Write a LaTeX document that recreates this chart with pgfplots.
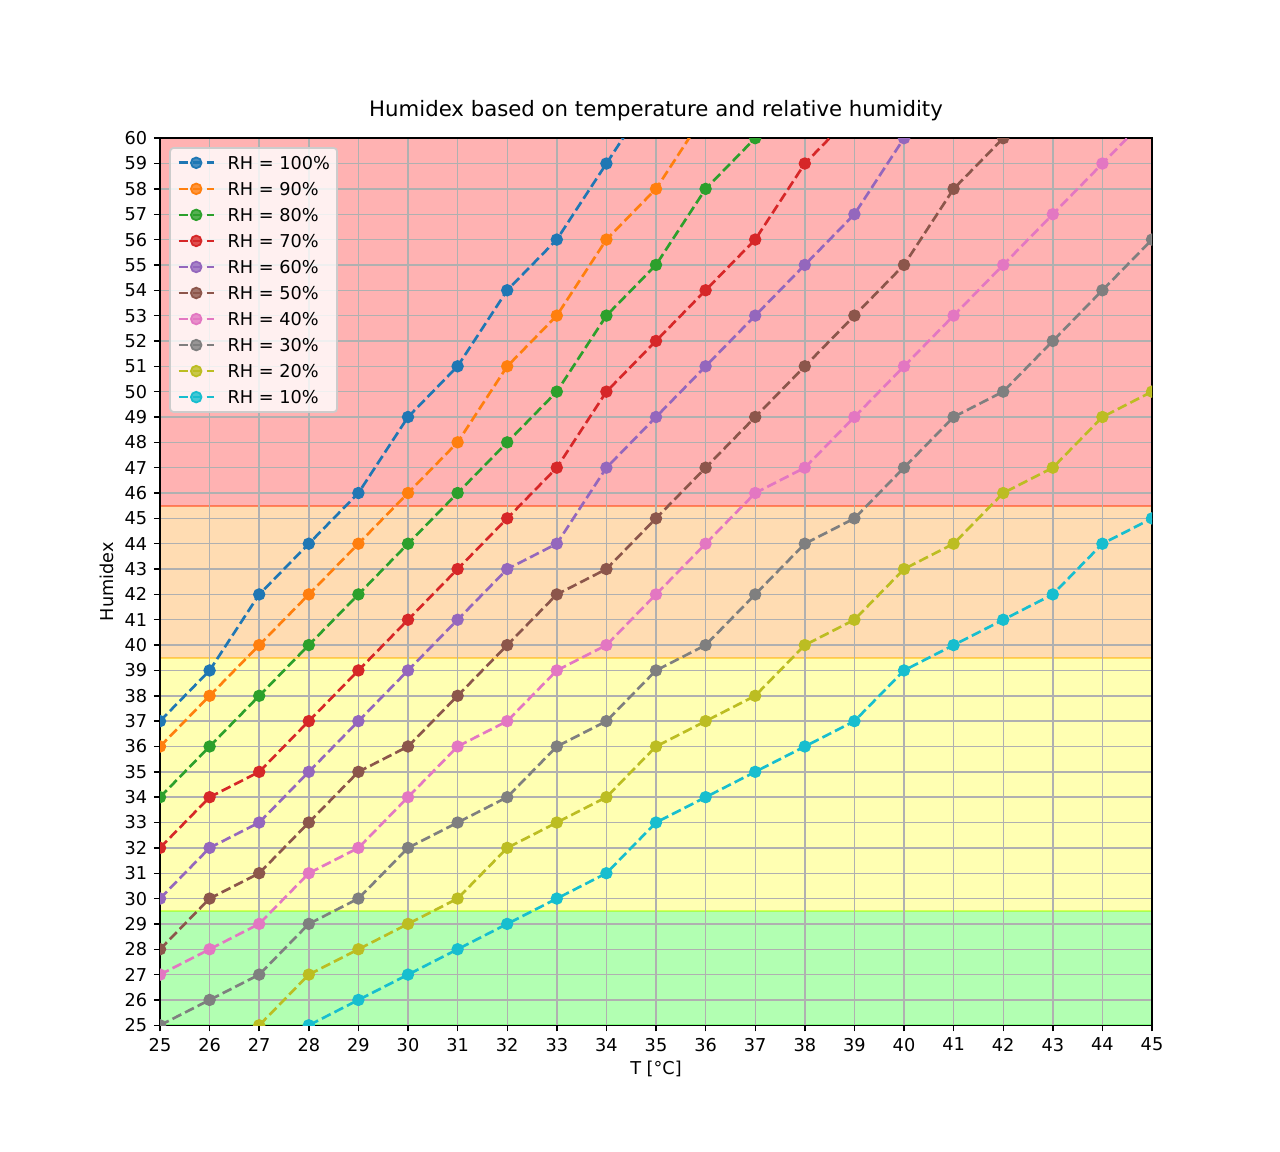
\documentclass[border=0pt]{standalone}
\usepackage{fontspec}
\setmainfont{DejaVu Sans}
\usepackage{pgfplots}
\pgfplotsset{compat=1.18}
\definecolor{c0}{HTML}{1F77B4}
\definecolor{c1}{HTML}{FF7F0E}
\definecolor{c2}{HTML}{2CA02C}
\definecolor{c3}{HTML}{D62728}
\definecolor{c4}{HTML}{9467BD}
\definecolor{c5}{HTML}{8C564B}
\definecolor{c6}{HTML}{E377C2}
\definecolor{c7}{HTML}{7F7F7F}
\definecolor{c8}{HTML}{BCBD22}
\definecolor{c9}{HTML}{17BECF}
\definecolor{bred}{HTML}{FF0000}
\definecolor{borange}{HTML}{FF8C00}
\definecolor{byellow}{HTML}{FFFF00}
\definecolor{bgreen}{HTML}{00FF00}
\definecolor{gridc}{HTML}{B0B0B0}
\definecolor{legc}{HTML}{CCCCCC}
\pgfplotsset{
  hx/.style={color=#1, line width=1.5pt, dash pattern=on 5.55pt off 2.4pt,
    mark=*, mark size=3pt, mark options={solid, line width=1pt, fill=#1, draw=#1}},
  band/.style={on layer=axis background, forget plot, fill=#1, fill opacity=0.3,
    draw=#1, draw opacity=0.3, line width=1pt, mark=none, solid},
}
\begin{document}
\begin{tikzpicture}
\path (0,0) rectangle (722.70pt,650.43pt);
\begin{axis}[
  set layers=standard,
  clip marker paths=true,
  at={(90.34pt,71.54pt)}, anchor=south west,
  scale only axis, width=560.09pt, height=500.86pt,
  xmin=25, xmax=45, ymin=25, ymax=60,
  xtick={25,...,45}, ytick={25,...,60},
  xtick pos=bottom, ytick pos=left,
  tick align=outside, major tick length=3.5pt,
  tick style={black, line width=0.8pt},
  axis line style={line width=0.8pt},
  grid=major, grid style={gridc, line width=0.8pt, solid},
  /pgf/number format/assume math mode=true,
  ticklabel style={font=\fontsize{10}{12}\selectfont, inner sep=0pt},
  xticklabel style={anchor=north, yshift=-3.5pt},
  yticklabel style={anchor=east, xshift=-3.5pt},
  title={Humidex based on temperature and relative humidity},
  title style={at={(axis description cs:0.5,1)}, anchor=base, yshift=6.15pt,
    inner sep=0pt, font=\fontsize{12}{14}\selectfont},
  xlabel={T [°C]},
  xlabel style={at={(axis description cs:0.5,-0.05602)}, anchor=base,
    inner sep=0pt, font=\fontsize{10}{12}\selectfont},
  ylabel={Humidex},
  ylabel style={at={(axis description cs:-0.04637,0.5)}, anchor=south,
    inner sep=0pt, font=\fontsize{10}{12}\selectfont},
  legend cell align=left,
  legend image code/.code={\draw[mark repeat=2, mark phase=2]
    plot coordinates {(0pt,0pt) (10pt,0pt) (20pt,0pt)};},
  legend style={at={(0,1)}, anchor=north west, xshift=5.2pt, yshift=-5pt,
    fill=white, fill opacity=0.8, text opacity=1, draw=legc, line width=1pt,
    rounded corners=2pt, font=\fontsize{10}{12}\selectfont,
    inner xsep=4pt, inner ysep=4.6pt, row sep=7.1pt, column sep=7pt,
    nodes={inner sep=0pt, text height=7.6pt, text depth=0pt}},
]
\addplot[band=bgreen] coordinates {(25,25) (45,25) (45,29.5) (25,29.5) (25,25)};
\addplot[band=byellow] coordinates {(25,29.5) (45,29.5) (45,39.5) (25,39.5) (25,29.5)};
\addplot[band=borange] coordinates {(25,39.5) (45,39.5) (45,45.5) (25,45.5) (25,39.5)};
\addplot[band=bred] coordinates {(25,45.5) (45,45.5) (45,60) (25,60) (25,45.5)};

\addplot[hx=c0] coordinates {(25,37) (26,39) (27,42) (28,44) (29,46) (30,49) (31,51) (32,54) (33,56) (34,59) (35,62)};
\addlegendentry{RH = 100\%}
\addplot[hx=c1] coordinates {(25,36) (26,38) (27,40) (28,42) (29,44) (30,46) (31,48) (32,51) (33,53) (34,56) (35,58) (36,61)};
\addlegendentry{RH = 90\%}
\addplot[hx=c2] coordinates {(25,34) (26,36) (27,38) (28,40) (29,42) (30,44) (31,46) (32,48) (33,50) (34,53) (35,55) (36,58) (37,60) (38,63)};
\addlegendentry{RH = 80\%}
\addplot[hx=c3] coordinates {(25,32) (26,34) (27,35) (28,37) (29,39) (30,41) (31,43) (32,45) (33,47) (34,50) (35,52) (36,54) (37,56) (38,59) (39,61)};
\addlegendentry{RH = 70\%}
\addplot[hx=c4] coordinates {(25,30) (26,32) (27,33) (28,35) (29,37) (30,39) (31,41) (32,43) (33,44) (34,47) (35,49) (36,51) (37,53) (38,55) (39,57) (40,60) (41,62)};
\addlegendentry{RH = 60\%}
\addplot[hx=c5] coordinates {(25,28) (26,30) (27,31) (28,33) (29,35) (30,36) (31,38) (32,40) (33,42) (34,43) (35,45) (36,47) (37,49) (38,51) (39,53) (40,55) (41,58) (42,60) (43,62)};
\addlegendentry{RH = 50\%}
\addplot[hx=c6] coordinates {(25,27) (26,28) (27,29) (28,31) (29,32) (30,34) (31,36) (32,37) (33,39) (34,40) (35,42) (36,44) (37,46) (38,47) (39,49) (40,51) (41,53) (42,55) (43,57) (44,59) (45,61)};
\addlegendentry{RH = 40\%}
\addplot[hx=c7] coordinates {(25,25) (26,26) (27,27) (28,29) (29,30) (30,32) (31,33) (32,34) (33,36) (34,37) (35,39) (36,40) (37,42) (38,44) (39,45) (40,47) (41,49) (42,50) (43,52) (44,54) (45,56)};
\addlegendentry{RH = 30\%}
\addplot[hx=c8] coordinates {(26,24) (27,25) (28,27) (29,28) (30,29) (31,30) (32,32) (33,33) (34,34) (35,36) (36,37) (37,38) (38,40) (39,41) (40,43) (41,44) (42,46) (43,47) (44,49) (45,50)};
\addlegendentry{RH = 20\%}
\addplot[hx=c9] coordinates {(27,24) (28,25) (29,26) (30,27) (31,28) (32,29) (33,30) (34,31) (35,33) (36,34) (37,35) (38,36) (39,37) (40,39) (41,40) (42,41) (43,42) (44,44) (45,45)};
\addlegendentry{RH = 10\%}
\end{axis}
\end{tikzpicture}
\end{document}
